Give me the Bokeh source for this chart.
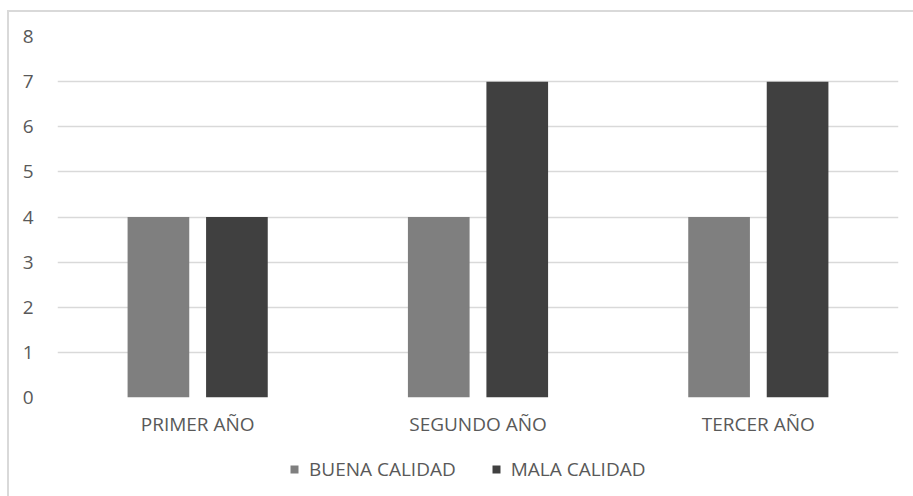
from bokeh.plotting import figure
from bokeh.layouts import column
from bokeh.models import FactorRange, Legend, LegendItem, SingleIntervalTicker, Range1d
from bokeh.transform import dodge
from bokeh.embed import file_html
from bokeh.resources import INLINE

categories = ["PRIMER AÑO", "SEGUNDO AÑO", "TERCER AÑO"]
buena = [4, 4, 4]
mala = [4, 7, 7]
series_names = ["BUENA CALIDAD", "MALA CALIDAD"]
colors = ["#7f7f7f", "#404040"]

FONT = "Open Sans"
FS = "19px"
TXT = "#595959"
BORDER = "#d9d9d9"

p = figure(x_range=FactorRange(*categories), y_range=(0, 8),
           width=913, height=452, output_backend="svg", toolbar_location=None,
           min_border_left=57, min_border_top=36, min_border_right=15, min_border_bottom=55)
p.styles = {
    "background": f"linear-gradient({BORDER},{BORDER}) 7px 10px / 2px 100% no-repeat, "
                  f"linear-gradient({BORDER},{BORDER}) 7px 10px / 100% 2px no-repeat, white"
}

data = dict(cat=categories, buena=buena, mala=mala)
r1 = p.vbar(x=dodge("cat", -0.14, range=p.x_range), top="buena", width=0.22,
            source=data, fill_color=colors[0], line_color=None)
r2 = p.vbar(x=dodge("cat", 0.14, range=p.x_range), top="mala", width=0.22,
            source=data, fill_color=colors[1], line_color=None)

p.outline_line_color = None
p.background_fill_color = "white"
p.border_fill_alpha = 0

p.xgrid.grid_line_color = None
p.ygrid.grid_line_color = BORDER
p.ygrid.grid_line_width = 1.5
p.yaxis.ticker = SingleIntervalTicker(interval=1)

for ax in (p.xaxis[0], p.yaxis[0]):
    ax.axis_line_color = None
    ax.major_tick_line_color = None
    ax.minor_tick_line_color = None
    ax.major_tick_in = 0
    ax.major_tick_out = 0
    ax.major_label_text_font = FONT
    ax.major_label_text_font_size = FS
    ax.major_label_text_color = TXT
p.yaxis.major_label_standoff = 20
p.xaxis.major_label_standoff = 13

# legend strip below the chart (its bars lie outside its visible range)
q = figure(width=913, height=44, output_backend="svg", toolbar_location=None,
           x_axis_type=None, y_axis_type=None, x_range=p.x_range,
           y_range=Range1d(100, 101), min_border=0)
q.styles = {
    "background": f"linear-gradient({BORDER},{BORDER}) 7px 0px / 2px 100% no-repeat, white"
}
q.outline_line_color = None
q.grid.visible = False
q.background_fill_alpha = 0
q.border_fill_alpha = 0
l1 = q.vbar(x=dodge("cat", -0.14, range=p.x_range), top="buena", width=0.22,
            source=data, fill_color=colors[0], line_color=None)
l2 = q.vbar(x=dodge("cat", 0.14, range=p.x_range), top="mala", width=0.22,
            source=data, fill_color=colors[1], line_color=None)

legend = Legend(items=[LegendItem(label=series_names[0], renderers=[l1]),
                       LegendItem(label=series_names[1], renderers=[l2])],
                orientation="horizontal", location=(232, 14),
                glyph_width=10, glyph_height=10, spacing=35,
                label_text_font=FONT, label_text_font_size=FS,
                label_text_color=TXT, border_line_color=None,
                background_fill_alpha=0, margin=0, padding=0, label_standoff=10)
q.add_layout(legend, "center")

layout = column(p, q, spacing=0)
open("out.html", "w").write(file_html(layout, INLINE))
